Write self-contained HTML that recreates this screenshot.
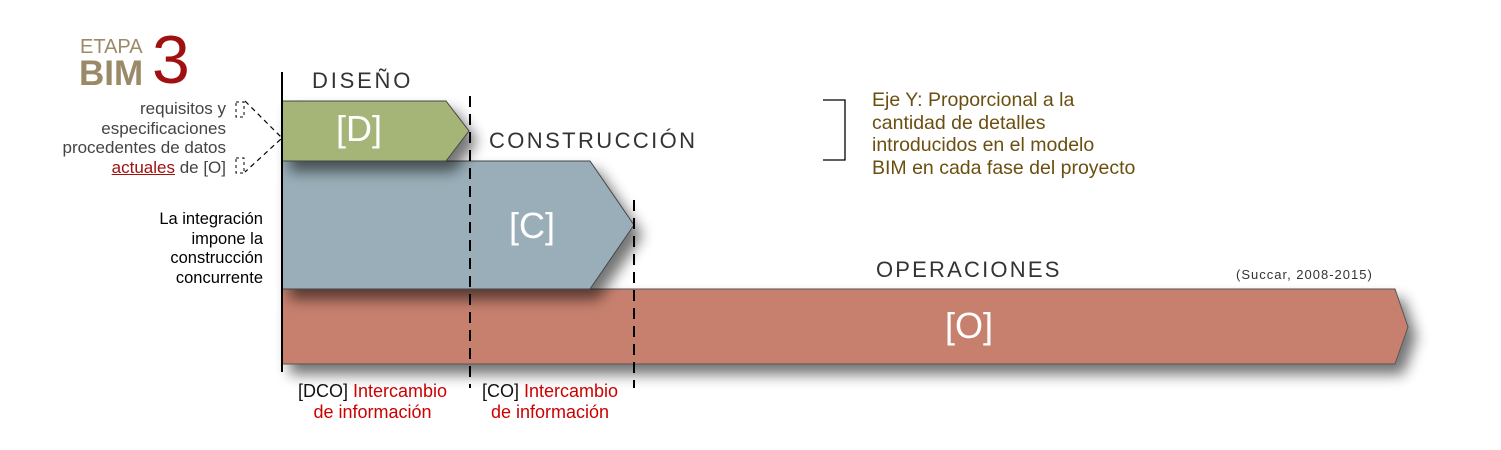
<!DOCTYPE html>
<html><head><meta charset="utf-8"><style>
body{margin:0;width:1501px;height:450px;background:#fff;overflow:hidden;font-family:"Liberation Sans",sans-serif;}
.t{position:absolute;white-space:nowrap;}
</style></head><body>
<svg width="1501" height="450" style="position:absolute;left:0;top:0">
<defs>
<filter id="sh" x="-10%" y="-30%" width="130%" height="180%"><feGaussianBlur in="SourceAlpha" stdDeviation="7"/><feOffset dx="8" dy="10"/><feComponentTransfer><feFuncA type="linear" slope="0.55"/></feComponentTransfer><feMerge><feMergeNode/><feMergeNode in="SourceGraphic"/></feMerge></filter>
</defs>
<polygon points="282,289 1395,289 1408,327 1395,364 282,364" fill="#c7806e" stroke="#555" stroke-width="1" filter="url(#sh)"/>
<polygon points="282,161 590,161 634,225 590,289 282,289" fill="#99aeb8" stroke="#444" stroke-width="1" filter="url(#sh)"/>
<polygon points="282,101 446,101 469,131 446,161 282,161" fill="#a4b577" stroke="#444" stroke-width="1" filter="url(#sh)"/>
<line x1="282" y1="72" x2="282" y2="372" stroke="#000" stroke-width="2"/>
<line x1="470" y1="96" x2="470" y2="388" stroke="#000" stroke-width="2" stroke-dasharray="11,7"/>
<line x1="634" y1="200" x2="634" y2="388" stroke="#000" stroke-width="2" stroke-dasharray="11,7"/>
<polyline points="245,101 282,138 245,172" fill="none" stroke="#000" stroke-width="1.2" stroke-dasharray="5,4"/>
<rect x="236" y="102" width="8" height="15" fill="none" stroke="#000" stroke-width="1" stroke-dasharray="3,3"/>
<rect x="236" y="158" width="8" height="15" fill="none" stroke="#000" stroke-width="1" stroke-dasharray="3,3"/>
<polyline points="823,100 845,100 845,160 823,160" fill="none" stroke="#000" stroke-width="1.3"/>
</svg>
<div class="t" style="left:80px;top:36px;font-size:20px;color:#9b8a68">ETAPA</div>
<div class="t" style="left:79px;top:54px;font-size:35px;font-weight:bold;color:#9b8a68">BIM</div>
<div class="t" style="left:152px;top:26px;font-size:68px;color:#a01010;line-height:1">3</div>
<div class="t" style="left:312px;top:68px;font-size:22px;letter-spacing:2.8px;color:#333">DISEÑO</div>
<div class="t" style="left:489px;top:128px;font-size:22px;letter-spacing:2.4px;color:#333">CONSTRUCCIÓN</div>
<div class="t" style="left:876px;top:257px;font-size:22px;letter-spacing:2.2px;color:#333">OPERACIONES</div>
<div class="t" style="left:1236px;top:267px;font-size:13px;letter-spacing:1px;color:#333">(Succar, 2008-2015)</div>
<div class="t" style="left:336px;top:108px;font-size:36px;color:#fff">[D]</div>
<div class="t" style="left:509px;top:205px;font-size:36px;color:#fff">[C]</div>
<div class="t" style="left:945px;top:305px;font-size:36px;color:#fff">[O]</div>
<div class="t" style="left:0;width:226px;text-align:right;top:99px;font-size:17px;line-height:19.5px;color:#444">requisitos y<br>especificaciones<br>procedentes de datos<br><span style="color:#a01010;text-decoration:underline">actuales</span> de [O]</div>
<div class="t" style="left:0;width:263px;text-align:right;top:210px;font-size:16.5px;line-height:19.5px;color:#000">La integración<br>impone la<br>construcción<br>concurrente</div>
<div class="t" style="left:298px;top:381px;font-size:18px;line-height:21px;text-align:center;color:#c00"><span style="color:#111">[DCO]</span> Intercambio<br>de información</div>
<div class="t" style="left:482px;top:381px;font-size:18px;line-height:21px;text-align:center;color:#c00"><span style="color:#111">[CO]</span> Intercambio<br>de información</div>
<div class="t" style="left:872px;top:89px;font-size:19.5px;line-height:22.5px;color:#6b4f10">Eje Y: Proporcional a la<br>cantidad de detalles<br>introducidos en el modelo<br>BIM en cada fase del proyecto</div>
</body></html>
